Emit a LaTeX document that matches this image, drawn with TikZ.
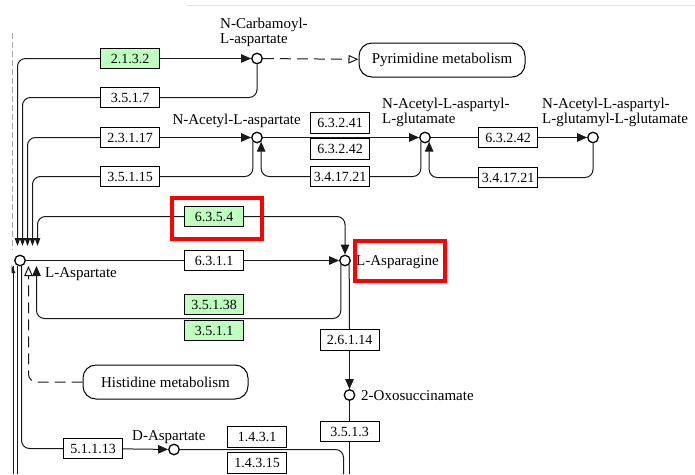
\documentclass[tikz,border=0pt]{standalone}
\usepackage{fontspec}
\setmainfont{Liberation Serif}
\usetikzlibrary{arrows.meta,calc}
\definecolor{enzgreen}{RGB}{191,255,191}
\definecolor{lncol}{RGB}{25,25,25}
\begin{document}
\begin{tikzpicture}[x=1pt,y=-1pt,
  ec/.style={draw=black, line width=1pt, fill=white, minimum width=59pt, minimum height=20.5pt, inner sep=0pt, font=\fontsize{14}{15}\selectfont},
  ecg/.style={ec, fill=enzgreen},
  cpd/.style={circle, draw=black, line width=1.3pt, fill=white, minimum size=10.5pt, inner sep=0pt},
  lbl/.style={inner sep=0pt, font=\fontsize{15}{15}\selectfont, align=left},
  mapbox/.style={draw=black, line width=1pt, rounded corners=13pt, fill=white, minimum width=166pt, minimum height=34pt, font=\fontsize{15}{15}\selectfont},
  hl/.style={draw=red, line width=4pt, inner sep=0pt, fill=none},
  ln/.style={draw=lncol, line width=1pt, rounded corners=8pt},
  dln/.style={ln, dash pattern=on 11pt off 6pt},
  arr/.style={-{Triangle[length=10pt,width=8.5pt]}},
  oarr/.style={-{Triangle[open,length=10pt,width=8.5pt,fill=white]}},
  sarr/.style={-{Triangle[length=8pt,width=5.5pt]}},
]
\useasboundingbox (0,0) rectangle (695,474);
\fill[white] (0,0) rectangle (695,474);

% faint frame lines
\draw[black!12, line width=1pt] (187,5) -- (695,5);
\draw[black!35, line width=0.6pt, dash pattern=on 6pt off 3pt] (12,33) -- (12,250);

% compounds
\node[cpd] (ccarb) at (257,58.5) {};
\node[cpd] (cnaa) at (257,137.5) {};
\node[cpd] (cnaag) at (425,137.5) {};
\node[cpd] (cnaagg) at (593,137.5) {};
\node[cpd] (casp) at (20,260.5) {};
\node[cpd] (casn) at (345,260.5) {};
\node[cpd] (coxo) at (349.5,395) {};
\node[cpd] (cdasp) at (174,449.5) {};

% enzymes
\node[ecg] (e2132) at (130,58.5) {2.1.3.2};
\node[ec] (e3517) at (130,97.5) {3.5.1.7};
\node[ec] (e23117) at (130,137.5) {2.3.1.17};
\node[ec] (e35115) at (130,176.5) {3.5.1.15};
\node[ec] (e63241) at (340,123) {6.3.2.41};
\node[ec] (e63242a) at (340,149) {6.3.2.42};
\node[ec] (e3417a) at (340,176.5) {3.4.17.21};
\node[ec] (e63242b) at (508,137.5) {6.3.2.42};
\node[ec] (e3417b) at (508,177.5) {3.4.17.21};
\node[ecg] (e6354) at (214,216.5) {6.3.5.4};
\node[ec] (e6311) at (214,260.5) {6.3.1.1};
\node[ecg] (e35138) at (214,304.5) {3.5.1.38};
\node[ecg] (e3511) at (214,330.5) {3.5.1.1};
\node[ec] (e26114) at (349.5,340) {2.6.1.14};
\node[ec] (e3513) at (349.5,431.5) {3.5.1.3};
\node[ec] (e51113) at (93,448.5) {5.1.1.13};
\node[ec] (e1431) at (257,437) {1.4.3.1};
\node[ec] (e14315) at (257,463) {1.4.3.15};

% maps
\node[mapbox] (pyr) at (442,60) {Pyrimidine metabolism};
\node[mapbox, minimum width=165pt] (his) at (165.5,382) {Histidine metabolism};

% free ends
\coordinate (a1) at (17.5,246);
\coordinate (a2) at (22.5,246);
\coordinate (a3) at (27.5,246);
\coordinate (a4) at (32.5,246);
\coordinate (a5) at (37.5,246);
\coordinate (b1) at (36.5,266);
\coordinate (b2) at (21.5,266);
\coordinate (b3) at (28.5,266);
\coordinate (k2) at (36.5,318.5);
\coordinate (bot1) at (349.5,474);
\coordinate (k3) at (343.5,449.5);
\coordinate (bot2) at (343.5,474);

% connectors
\draw[ln, sarr] (e2132.west) -| (a1);
\draw[ln, arr] (e2132) -- (ccarb);
\draw[ln, sarr] (e3517.west) -| (a2);
\draw[ln] (e3517.east) -| (ccarb);
\draw[ln, sarr] (e23117.west) -| (a3);
\draw[ln, arr] (e23117) -- (cnaa);
\draw[ln, sarr] (e35115.west) -| (a4);
\draw[ln] (e35115.east) -| (cnaa.-135);
\draw[dln, oarr] (ccarb) -- (pyr);

\draw[ln, arr] (cnaa) -- (cnaag);
\draw[ln] (cnaag.-135) |- (e3417a.east);
\draw[ln, arr] (e3417a.west) -| (cnaa.-45);
\draw[ln] (cnaag) -- (e63242b);
\draw[ln, arr] (e63242b) -- (cnaagg);
\draw[ln] (cnaagg) |- (e3417b.east);
\draw[ln, arr] (e3417b.west) -| (cnaag.-45);

\draw[ln, sarr] (e6354.west) -| (a5);
\draw[ln, arr] (e6354.east) -| (casn);
\draw[ln] (casp) -- (e6311);
\draw[ln, arr] (e6311) -- (casn);
\draw[ln, arr] (casn.-135) |- (k2) -- (b1);

\draw[ln] (casn.-45) -- (e26114.north);
\draw[ln, arr] (e26114) -- (coxo);
\draw[ln] (coxo) -- (e3513);
\draw[ln] (e3513) -- (bot1);

\draw[dln, oarr] (his.west) -| (b3);
\draw[ln] (b2) |- (e51113.west);
\draw[ln, arr] (e51113) -- (cdasp);
\draw[ln] (cdasp) -- (k3) -- (bot2);

\draw[lncol, line width=1pt] (13.5,266) -- (13.5,474);
\draw[lncol, line width=1pt] (17.5,266) -- (17.5,474);
\fill[lncol] (11.5,265) -- (11.5,273) -- (15.5,273) -- cycle;

% labels
\node[lbl, anchor=north west] (tcarb) at (220,18) {N-Carbamoyl-\\L-aspartate};
\node[lbl, anchor=base east] (tnaa) at (301,124) {N-Acetyl-L-aspartate};
\node[lbl, anchor=north west] (tnaag) at (382,98) {N-Acetyl-L-aspartyl-\\L-glutamate};
\node[lbl, anchor=north west] (tnaagg) at (542,98) {N-Acetyl-L-aspartyl-\\L-glutamyl-L-glutamate};
\node[lbl, anchor=base west] (tasp) at (45,277) {L-Aspartate};
\node[lbl, anchor=base west] (tasn) at (356,265) {L-Asparagine};
\node[lbl, anchor=base west] (toxo) at (361,400) {2-Oxosuccinamate};
\node[lbl, anchor=base west] (tdasp) at (132,440) {D-Aspartate};

% highlights
\node[hl, minimum width=90pt, minimum height=41pt] (hl1) at (217,218.5) {};
\node[hl, minimum width=90pt, minimum height=40pt] (hl2) at (400,261) {};
\end{tikzpicture}
\end{document}
